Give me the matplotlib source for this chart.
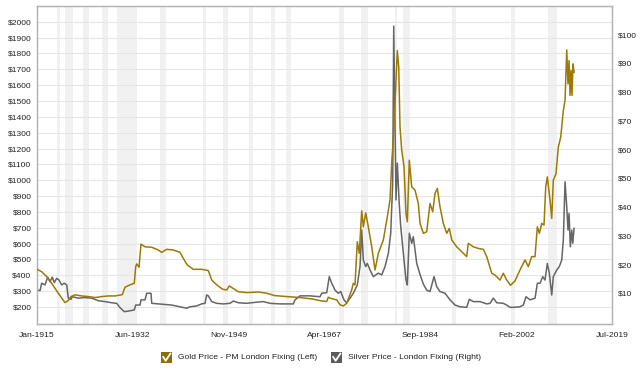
import matplotlib.pyplot as plt
from matplotlib.patches import Rectangle
from matplotlib.lines import Line2D

plt.rcParams['font.family'] = ['Liberation Sans', 'DejaVu Sans']

# gold price, inflation adjusted (left axis)
gold_year = [1915.0, 1915.85, 1916.76, 1917.67, 1918.87, 1920.09, 1920.69, 1921.18, 1921.91,
             1923.12, 1924.32, 1925.54, 1926.76, 1927.96, 1929.18, 1930.5, 1930.99, 1931.9,
             1932.68, 1932.94, 1933.12, 1933.54, 1933.9, 1934.63, 1935.85, 1937.05, 1937.66,
             1938.57, 1939.77, 1940.99, 1941.59, 1942.32, 1943.41, 1944.93, 1946.13, 1946.75,
             1947.66, 1948.75, 1949.48, 1949.95, 1950.57, 1951.58, 1953.11, 1955.22, 1956.75,
             1958.25, 1960.38, 1962.8, 1965.22, 1966.43, 1967.65, 1967.94, 1968.25, 1969.47,
             1970.07, 1970.67, 1971.29, 1972.19, 1972.48, 1972.79, 1973.21, 1973.57, 1974.01,
             1974.3, 1974.74, 1975.21, 1975.83, 1976.43, 1977.03, 1977.94, 1978.56, 1979.15,
             1979.46, 1979.88, 1980.48, 1980.74, 1980.97, 1981.28, 1981.7, 1982.06, 1982.3,
             1982.66, 1983.1, 1983.7, 1984.3, 1984.61, 1985.21, 1985.82, 1986.42, 1986.91,
             1987.33, 1987.75, 1988.24, 1988.84, 1989.46, 1989.93, 1990.37, 1991.28, 1992.48,
             1993.09, 1993.38, 1994.29, 1995.2, 1996.11, 1996.73, 1997.64, 1998.24, 1999.14,
             1999.74, 2000.36, 2001.05, 2001.87, 2002.78, 2003.69, 2004.29, 2004.9, 2005.5,
             2005.93, 2006.29, 2006.73, 2007.14, 2007.45, 2007.74, 2008.23, 2008.54, 2008.83,
             2009.32, 2009.74, 2010.18, 2010.65, 2010.96, 2011.27, 2011.5, 2011.69, 2011.87,
             2012.05, 2012.23, 2012.41, 2012.6]
gold_price = [438, 423, 392, 350, 287, 228, 241, 266, 277,
              270, 266, 260, 266, 270, 270, 278, 325, 340,
              350, 455, 472, 451, 597, 580, 577, 560, 545,
              564, 560, 545, 507, 465, 438, 438, 430, 371,
              340, 312, 308, 333, 319, 297, 291, 295, 287,
              272, 266, 260, 250, 240, 235, 262, 256, 245,
              214, 207, 224, 308, 350, 340, 612, 539, 807,
              706, 794, 706, 580, 434, 539, 623, 748, 874,
              1105, 1335, 1818, 1713, 1335, 1189, 1084, 790, 738,
              1126, 958, 937, 853, 728, 665, 675, 853, 801,
              916, 948, 832, 728, 665, 696, 623, 580, 539,
              518, 602, 580, 570, 564, 518, 413, 402, 370,
              413, 371, 337, 365, 434, 497, 455, 518, 518,
              706, 665, 728, 717, 958, 1021, 874, 759, 1000,
              1042, 1209, 1272, 1440, 1503, 1822, 1608, 1755, 1535,
              1692, 1535, 1734, 1681]

# silver price, inflation adjusted (right axis)
silver_year = [1915.0, 1915.55, 1915.85, 1916.45, 1916.94, 1917.36, 1917.78, 1918.14, 1918.58,
               1919.0, 1919.49, 1919.96, 1920.4, 1920.69, 1921.18, 1921.42, 1922.51, 1923.72,
               1924.94, 1926.14, 1927.36, 1928.58, 1929.48, 1930.08, 1930.87, 1931.9, 1932.68,
               1932.94, 1933.72, 1933.9, 1934.63, 1934.94, 1935.72, 1935.85, 1937.66, 1939.48,
               1941.0, 1942.2, 1942.81, 1944.02, 1944.93, 1945.53, 1945.84, 1946.13, 1946.75,
               1947.66, 1948.86, 1950.08, 1950.68, 1951.58, 1953.11, 1954.93, 1956.13, 1957.35,
               1959.16, 1961.58, 1961.89, 1962.8, 1964.61, 1966.43, 1966.74, 1967.65, 1968.12,
               1968.56, 1969.16, 1969.76, 1970.19, 1970.79, 1971.29, 1971.89, 1972.48, 1973.21,
               1973.7, 1974.01, 1974.3, 1974.74, 1975.03, 1975.52, 1976.12, 1977.03, 1977.65,
               1978.25, 1978.85, 1979.28, 1979.64, 1979.83, 1980.01, 1980.24, 1980.48, 1980.79,
               1981.1, 1981.57, 1982.06, 1982.3, 1982.66, 1983.1, 1983.39, 1984.01, 1984.61,
               1985.21, 1985.82, 1986.42, 1987.15, 1987.64, 1988.24, 1989.15, 1990.06, 1990.97,
               1991.87, 1993.09, 1993.56, 1994.29, 1995.51, 1996.73, 1997.33, 1997.93, 1998.55,
               1999.74, 2000.36, 2000.96, 2001.56, 2002.78, 2003.38, 2003.87, 2004.6, 2005.51,
               2005.93, 2006.42, 2006.91, 2007.32, 2007.74, 2008.1, 2008.54, 2008.83, 2009.45,
               2009.92, 2010.36, 2010.65, 2010.96, 2011.27, 2011.5, 2011.69, 2011.92, 2012.18,
               2012.36, 2012.6]
silver_price = [11.1, 10.9, 13.5, 12.9, 15.6, 14.0, 15.6, 13.7, 15.2,
                14.6, 12.9, 13.5, 12.9, 8.3, 7.9, 8.8, 8.3, 8.5,
                8.3, 7.4, 7.1, 6.7, 6.5, 5.0, 3.6, 3.9, 4.2,
                5.9, 5.9, 7.7, 7.7, 10.0, 10.0, 6.5, 6.2, 5.9,
                5.3, 4.8, 5.3, 5.6, 6.3, 6.5, 9.4, 9.1, 7.1,
                6.5, 6.3, 6.5, 7.3, 6.7, 6.5, 6.9, 7.1, 6.5,
                6.3, 6.3, 7.7, 9.1, 9.1, 8.8, 10.0, 10.2, 15.8,
                13.5, 11.1, 10.0, 10.6, 7.7, 6.7, 8.3, 10.0, 12.9,
                19.3, 32.0, 21.6, 19.3, 20.4, 18.1, 15.8, 17.0, 16.4,
                19.3, 23.9, 30.9, 48.3, 103.0, 77.3, 42.5, 55.3, 42.5,
                33.2, 23.9, 14.6, 12.9, 30.9, 27.4, 29.7, 20.4, 16.5,
                13.2, 11.1, 10.6, 15.8, 12.3, 10.6, 10.0, 7.7, 5.9,
                5.3, 5.1, 7.9, 7.1, 7.1, 6.3, 6.5, 8.3, 6.7,
                6.5, 5.9, 5.1, 5.1, 5.3, 5.9, 8.8, 7.7, 8.3,
                13.5, 13.5, 15.8, 14.6, 20.4, 17.0, 9.4, 15.8, 18.1,
                19.3, 21.6, 28.6, 48.8, 40.1, 32.0, 37.8, 26.2, 32.0,
                27.4, 32.6]

# US recessions (shaded bands)
recessions = [(1918.58, 1919.17), (1920.0, 1921.5), (1923.33, 1924.5), (1926.75, 1927.83),
              (1929.58, 1933.17), (1937.33, 1938.42), (1945.08, 1945.75), (1948.83, 1949.75),
              (1953.5, 1954.33), (1957.58, 1958.25), (1960.25, 1961.08), (1969.92, 1970.83),
              (1973.83, 1975.17), (1980.0, 1980.5), (1981.5, 1982.83), (1990.5, 1991.17),
              (2001.17, 2001.83), (2007.92, 2009.42)]

x_ticks = [1915.0, 1932.4167, 1949.8333, 1967.25, 1984.6667, 2002.0833, 2019.5]
x_labels = ['Jan-1915', 'Jun-1932', 'Nov-1949', 'Apr-1967', 'Sep-1984', 'Feb-2002', 'Jul-2019']
left_ticks = list(range(200, 2001, 100))
right_ticks = list(range(10, 101, 10))

gold_color = '#9c7a05'
silver_color = '#666666'
text_color = '#222222'

fig = plt.figure(figsize=(6.4, 3.7), dpi=100)
ax2 = fig.add_axes([0.0578, 0.1243, 0.8985, 0.8595])   # silver axis, drawn first (below)
ax = ax2.twinx()                                        # gold axis on top
# swap sides: gold on the left, silver on the right
ax.yaxis.tick_left()
ax2.yaxis.tick_right()

# bands and horizontal grid live on the bottom axes
for start, end in recessions:
    ax2.axvspan(start, end, color='#f1f1f1', lw=0, zorder=0)

ax.set_xlim(1915.0, 2019.5)
ax.set_ylim(93, 2099)
ax2.set_ylim(-0.7, 110)

for v in left_ticks:
    ax2.axhline(-0.7 + (v - 93) / (2099 - 93) * 110.7, color='#e6e6e6', lw=0.8, zorder=1)

ax2.plot(silver_year, silver_price, color=silver_color, lw=1.1, zorder=2)
ax.plot(gold_year, gold_price, color=gold_color, lw=1.1, zorder=3)

ax.set_yticks(left_ticks)
ax.set_yticklabels(['$%d' % v for v in left_ticks])
ax2.set_yticks(right_ticks)
ax2.set_yticklabels(['$%d' % v for v in right_ticks])
ax2.set_xticks(x_ticks)
ax2.set_xticklabels(x_labels)

for a in (ax, ax2):
    a.tick_params(length=0, labelsize=6.1, labelcolor=text_color)
    for s in a.spines.values():
        s.set_color('#b4b4b4')
        s.set_linewidth(0.9)
ax.tick_params(axis='y', pad=4)
ax2.tick_params(axis='y', pad=4)
ax2.tick_params(axis='x', pad=6)

# legend with check boxes
def check_box(x0, color, label):
    w, h = 11 / 640, 11 / 370
    y0 = 1 - 363 / 370
    fig.patches.append(Rectangle((x0, y0), w, h, transform=fig.transFigure,
                                 facecolor=color, edgecolor='none'))
    fig.lines.append(Line2D([x0 + w * 0.2, x0 + w * 0.42, x0 + w * 0.85],
                            [y0 + h * 0.55, y0 + h * 0.2, y0 + h * 0.85],
                            transform=fig.transFigure, color='white', lw=1.3))
    fig.text(x0 + w + 6 / 640, y0 + h / 2, label, fontsize=6.1, color=text_color,
             va='center', ha='left')

check_box(161 / 640, '#8c6d08', 'Gold Price - PM London Fixing (Left)')
check_box(331 / 640, '#5a5a5a', 'Silver Price - London Fixing (Right)')

fig.savefig('out.png', dpi=100)
